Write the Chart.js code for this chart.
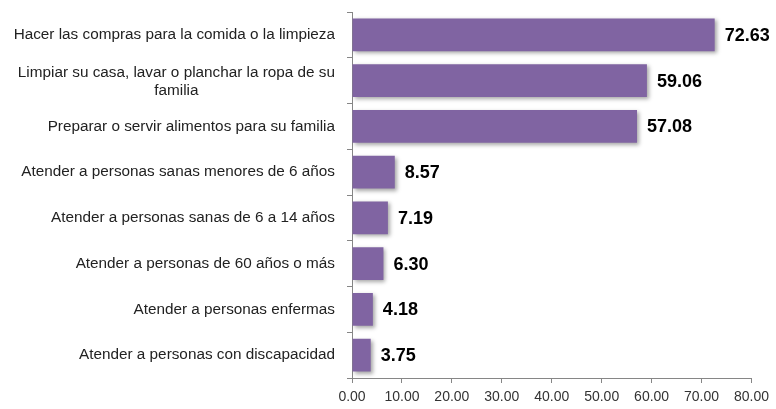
<!DOCTYPE html>
<html>
<head>
<meta charset="utf-8">
<script src="https://cdn.jsdelivr.net/npm/chart.js@4/dist/chart.umd.min.js"></script>
<style>
  html, body { margin: 0; padding: 0; background: #fff; }
  #wrap { width: 776px; height: 409px; }
</style>
</head>
<body>
<div id="wrap"><canvas id="chart"></canvas></div>
<script>
const categories = [
  ["Hacer las compras para la comida o la limpieza"],
  ["Limpiar su casa, lavar o planchar la ropa de su", "familia"],
  ["Preparar o servir alimentos para su familia"],
  ["Atender a personas sanas menores de 6 años"],
  ["Atender a personas sanas de 6 a 14 años"],
  ["Atender a personas de 60 años o más"],
  ["Atender a personas enfermas"],
  ["Atender a personas con discapacidad"]
];
const values = [72.63, 59.06, 57.08, 8.57, 7.19, 6.30, 4.18, 3.75];
const xTicks = [0, 10, 20, 30, 40, 50, 60, 70, 80];

const labelFont = "15.3px 'Liberation Sans', Arial, sans-serif";

// Sombra de las barras
const shadowPlugin = {
  id: "shadow",
  beforeDatasetsDraw(chart) {
    const ctx = chart.ctx;
    ctx.save();
    ctx.shadowColor = "rgba(0, 0, 0, 0.35)";
    ctx.shadowBlur = 4;
    ctx.shadowOffsetX = 2;
    ctx.shadowOffsetY = 2;
  },
  afterDatasetsDraw(chart) {
    chart.ctx.restore();
  }
};

// Etiquetas de categoría (segunda línea centrada) y valores
const labelsPlugin = {
  id: "labels",
  afterDraw(chart) {
    const ctx = chart.ctx;
    const yScale = chart.scales.y;
    const right = chart.chartArea.left - 17;
    ctx.save();
    ctx.font = labelFont;
    ctx.fillStyle = "#222";
    ctx.textBaseline = "middle";
    categories.forEach((lines, i) => {
      const y = yScale.getPixelForValue(i);
      if (lines.length === 1) {
        ctx.textAlign = "right";
        ctx.fillText(lines[0], right, y);
      } else {
        const w = ctx.measureText(lines[0]).width;
        ctx.textAlign = "right";
        ctx.fillText(lines[0], right, y - 8);
        ctx.textAlign = "center";
        ctx.fillText(lines[1], right - w / 2, y + 10);
      }
    });
    const meta = chart.getDatasetMeta(0);
    ctx.font = "bold 18px 'Liberation Sans', Arial, sans-serif";
    ctx.fillStyle = "#000";
    ctx.textAlign = "left";
    meta.data.forEach((bar, i) => {
      ctx.fillText(values[i].toFixed(2), bar.x + 10, bar.y + 1);
    });
    ctx.restore();
  }
};

new Chart(document.getElementById("chart"), {
  type: "bar",
  data: {
    labels: categories.map((c) => c.join(" ")),
    datasets: [{
      data: values,
      backgroundColor: "#8064A2",
      borderWidth: 0,
      categoryPercentage: 0.72,
      barPercentage: 1
    }]
  },
  options: {
    indexAxis: "y",
    responsive: true,
    maintainAspectRatio: false,
    animation: false,
    layout: { padding: { left: 347, top: 12, right: 22, bottom: 0 } },
    plugins: {
      legend: { display: false },
      tooltip: { enabled: false }
    },
    scales: {
      y: {
        grid: {
          offset: true,
          drawOnChartArea: false,
          drawTicks: true,
          tickLength: 5,
          color: "#868686"
        },
        border: { color: "#868686", width: 1 },
        ticks: { display: false }
      },
      x: {
        min: 0,
        max: 80,
        afterBuildTicks: (axis) => {
          axis.ticks = xTicks.map((v) => ({ value: v }));
        },
        afterFit: (axis) => {
          axis.height = 31;
        },
        grid: {
          drawOnChartArea: false,
          drawTicks: true,
          tickLength: 5,
          color: "#868686"
        },
        border: { color: "#868686", width: 1 },
        ticks: {
          color: "#333",
          font: { family: "'Liberation Sans', Arial, sans-serif", size: 14, lineHeight: 1 },
          padding: 7,
          maxRotation: 0,
          callback: (v) => Number(v).toFixed(2)
        }
      }
    }
  },
  plugins: [shadowPlugin, labelsPlugin]
});
</script>
</body>
</html>
